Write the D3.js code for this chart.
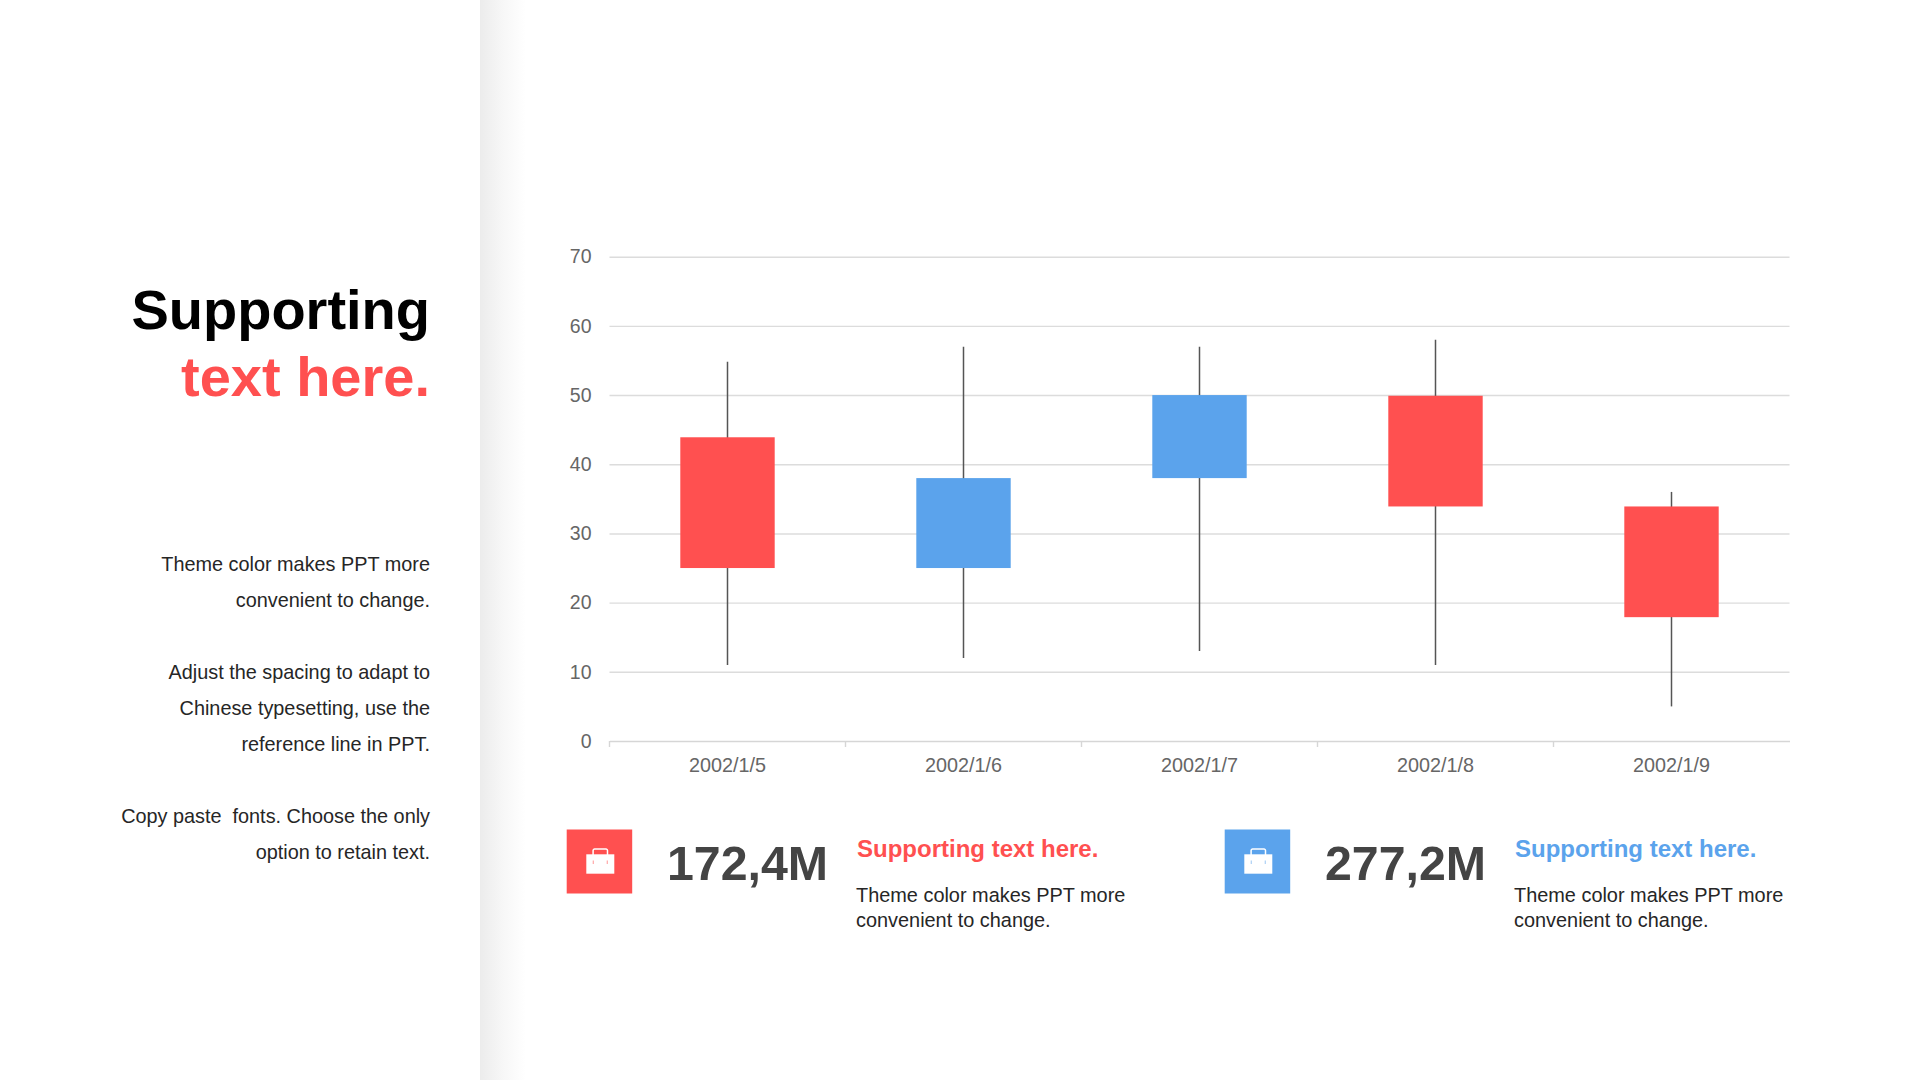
<!DOCTYPE html>
<html>
<head>
<meta charset="utf-8">
<title>Supporting text here.</title>
<script src="https://cdn.jsdelivr.net/npm/d3@7"></script>
<style>
  html, body { margin: 0; padding: 0; background: #fff; }
  svg { display: block; font-family: "Liberation Sans", Arial, sans-serif; }
  .grid line { stroke: #dcdcdc; stroke-width: 1.4; }
  .grid .domain { display: none; }
  .axis-y text { fill: #666; font-size: 19.5px; }
  .axis-y .domain, .axis-y line { display: none; }
  .axis-x text { fill: #666; font-size: 19.8px; }
  .axis-x .domain, .axis-x line { stroke: #d6d6d6; stroke-width: 1.4; }
</style>
</head>
<body>
<svg id="chart" width="1920" height="1080"></svg>
<script>
const RED = '#ff5050';
const BLUE = '#5ba3ec';

const dates = ['2002/1/5', '2002/1/6', '2002/1/7', '2002/1/8', '2002/1/9'];
const lows = [11, 12, 13, 11, 5];
const highs = [54.8, 57, 57, 58, 36];
const boxBottoms = [25, 25, 38, 33.9, 17.9];
const boxTops = [43.9, 38, 50, 49.9, 33.9];
const rising = [false, true, true, false, false];
const yTicks = [0, 10, 20, 30, 40, 50, 60, 70];

const titleLines = [
  { text: 'Supporting', color: '#000' },
  { text: 'text here.', color: RED },
];
const sideLines = [
  'Theme color makes PPT more',
  'convenient to change.',
  '',
  'Adjust the spacing to adapt to',
  'Chinese typesetting, use the',
  'reference line in PPT.',
  '',
  'Copy paste  fonts. Choose the only',
  'option to retain text.',
];
const statValues = ['172,4M', '277,2M'];
const statColors = [RED, BLUE];
const statHeading = 'Supporting text here.';
const statBody = ['Theme color makes PPT more', 'convenient to change.'];

const svg = d3.select('#chart');

// side panel shadow
const grad = svg.append('defs').append('linearGradient').attr('id', 'panel-shadow');
grad.append('stop').attr('offset', 0).attr('stop-color', '#ececec');
grad.append('stop').attr('offset', 0.5).attr('stop-color', '#f7f7f7');
grad.append('stop').attr('offset', 1).attr('stop-color', '#fff');
svg.append('rect')
  .attr('x', 480).attr('y', 0)
  .attr('width', 46).attr('height', 1080)
  .attr('fill', 'url(#panel-shadow)');

// left column
svg.append('g').selectAll('text')
  .data(titleLines)
  .join('text')
  .attr('x', 430)
  .attr('y', (d, i) => 329 + i * 67)
  .attr('text-anchor', 'end')
  .attr('font-size', 56)
  .attr('font-weight', 700)
  .attr('fill', d => d.color)
  .text(d => d.text);

svg.append('g').selectAll('text')
  .data(sideLines)
  .join('text')
  .attr('x', 430)
  .attr('y', (d, i) => 571 + i * 36)
  .attr('text-anchor', 'end')
  .attr('font-size', 19.85)
  .attr('fill', '#262626')
  .style('white-space', 'pre')
  .text(d => d);

// candlesticks
const x = d3.scaleBand().domain(dates).range([609.5, 1789.5]);
const y = d3.scaleLinear().domain([0, 70]).range([741, 256.7]);
const boxWidth = x.bandwidth() * 0.4;

svg.append('g')
  .attr('class', 'grid')
  .attr('transform', 'translate(609.5,0)')
  .call(d3.axisLeft(y).tickValues(yTicks.slice(1)).tickSize(-1180).tickFormat(''));

svg.append('g')
  .attr('class', 'axis-y')
  .attr('transform', 'translate(609.5,0)')
  .call(d3.axisLeft(y).tickValues(yTicks).tickPadding(18).tickSize(0));

const axisX = d3.axisBottom(x).tickSize(0).tickPadding(17);
const xAxisG = svg.append('g')
  .attr('class', 'axis-x')
  .attr('transform', 'translate(0,741)')
  .call(axisX);

// category separators, axisBottom only gives band centres
xAxisG.selectAll('.sep')
  .data(dates)
  .join('line')
  .attr('class', 'sep')
  .attr('x1', d => x(d)).attr('x2', d => x(d))
  .attr('y1', 0).attr('y2', 6);

const candles = svg.append('g').selectAll('g')
  .data(dates)
  .join('g');

candles.append('line')
  .attr('x1', d => x(d) + x.bandwidth() / 2)
  .attr('x2', d => x(d) + x.bandwidth() / 2)
  .attr('y1', (d, i) => y(highs[i]))
  .attr('y2', (d, i) => y(lows[i]))
  .attr('stroke', '#555')
  .attr('stroke-width', 1.5);

candles.append('rect')
  .attr('x', d => x(d) + (x.bandwidth() - boxWidth) / 2)
  .attr('y', (d, i) => y(boxTops[i]))
  .attr('width', boxWidth)
  .attr('height', (d, i) => y(boxBottoms[i]) - y(boxTops[i]))
  .attr('fill', (d, i) => (rising[i] ? BLUE : RED));

// stat blocks below the chart
const stats = svg.append('g').selectAll('g')
  .data(statValues)
  .join('g')
  .attr('transform', (d, i) => `translate(${i === 0 ? 0 : 658},0)`);

stats.append('rect')
  .attr('x', 566.7).attr('y', 829.5)
  .attr('width', 65.5).attr('height', 64)
  .attr('fill', (d, i) => statColors[i]);

// briefcase icon
const icon = stats.append('g').attr('transform', 'translate(600.3,862)');
icon.append('path')
  .attr('d', 'M-7.2,-7V-11.5A1.5,1.5 0 0 1 -5.7,-13H5.7A1.5,1.5 0 0 1 7.2,-11.5V-7')
  .attr('fill', 'none')
  .attr('stroke', '#fff')
  .attr('stroke-width', 1.5);
icon.append('path')
  .attr('d', 'M-14,-7.7H14V11.7H-14Z')
  .attr('fill', '#fff');
icon.each(function (d, i) {
  d3.select(this).selectAll('rect')
    .data([-7, 7])
    .join('rect')
    .attr('x', n => n - 0.6)
    .attr('y', -1.5)
    .attr('width', 1.2)
    .attr('height', 3.5)
    .attr('fill', statColors[i])
    .attr('opacity', 0.5);
});

stats.append('text')
  .attr('x', 667)
  .attr('y', 880)
  .attr('font-size', 48.3)
  .attr('font-weight', 700)
  .attr('fill', '#444')
  .text(d => d);

stats.append('text')
  .attr('x', 857)
  .attr('y', 857)
  .attr('font-size', 24)
  .attr('font-weight', 700)
  .attr('fill', (d, i) => statColors[i])
  .text(statHeading);

stats.selectAll('.stat-body')
  .data(statBody)
  .join('text')
  .attr('class', 'stat-body')
  .attr('x', 856)
  .attr('y', (d, i) => 902 + i * 25)
  .attr('font-size', 19.9)
  .attr('fill', '#262626')
  .text(d => d);
</script>
</body>
</html>
